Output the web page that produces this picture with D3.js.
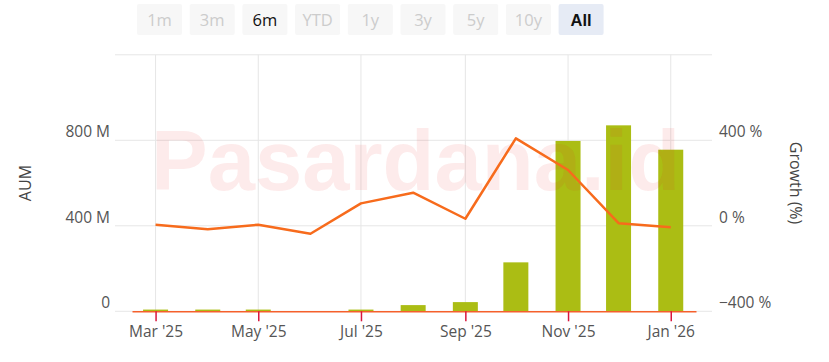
<!DOCTYPE html>
<html>
<head>
<meta charset="utf-8">
<script src="https://cdn.jsdelivr.net/npm/d3@7"></script>
<style>
  body { margin: 0; background: #fff; }
  svg { display: block; font-family: "Open Sans", "Noto Sans", sans-serif; }
</style>
</head>
<body>
<div id="container"></div>
<script>
const months = ["2025-03-01", "2025-04-01", "2025-05-01", "2025-06-01", "2025-07-01", "2025-08-01",
  "2025-09-01", "2025-10-01", "2025-11-01", "2025-12-01", "2026-01-01"];
const aum = [8, 8, 8, null, 8, 29, 43, 229, 797, 870, 756];   // millions
const growth = [5, -16, 5, -37, 105, 155, 33, 409, 261, 12, -7]; // percent
const aumTicks = [0, 400, 800, 1200];
const growthTicks = [-400, 0, 400, 800];
const xTicks = ["2025-03-01", "2025-05-01", "2025-07-01", "2025-09-01", "2025-11-01", "2026-01-01"];
const buttons = ["1m", "3m", "6m", "YTD", "1y", "3y", "5y", "10y", "All"];

const width = 829;
const height = 362;
const parse = d3.timeParse("%Y-%m-%d");
const data = months.map((m, i) => ({ date: parse(m), aum: aum[i], growth: growth[i] }));

const svg = d3.select("#container").append("svg")
  .attr("width", width)
  .attr("height", height);

const x = d3.scaleTime()
  .domain([parse("2025-02-15"), parse("2026-01-16")])
  .range([132, 696]);
const yL = d3.scaleLinear().domain([0, 1200]).range([311.3, 54.8]);
const yR = d3.scaleLinear().domain([-400, 800]).range([311.3, 54.8]);

// range selector buttons
const btn = svg.append("g");
buttons.forEach((b, i) => {
  const bx = 137 + i * 52.7;
  const active = b === "All";
  const g = btn.append("g").attr("transform", `translate(${bx},4)`);
  g.append("rect").attr("width", 45).attr("height", 31).attr("rx", 2)
    .attr("fill", active ? "#e6ebf5" : "#f7f7f7");
  g.append("text").attr("x", 22.5).attr("y", 21.5)
    .attr("text-anchor", "middle")
    .attr("font-size", 16.5)
    .attr("font-weight", active ? "bold" : "normal")
    .attr("font-family", active ? "Liberation Sans, Arial, sans-serif" : null)
    .attr("fill", active || b === "6m" ? "#111" : "#cccccc")
    .text(b);
});

// horizontal gridlines
svg.append("g")
  .selectAll("line")
  .data(aumTicks)
  .join("line")
  .attr("x1", 115).attr("x2", 712)
  .attr("y1", d => yL(d)).attr("y2", d => yL(d))
  .attr("stroke", "#e6e6e6");

// vertical gridlines
svg.append("g")
  .selectAll("line")
  .data(xTicks.map(parse))
  .join("line")
  .attr("x1", d => x(d)).attr("x2", d => x(d))
  .attr("y1", yL(1200)).attr("y2", yL(0))
  .attr("stroke", "#e6e6e6");

// bars
svg.append("g")
  .selectAll("rect")
  .data(data.filter(d => d.aum != null))
  .join("rect")
  .attr("x", d => x(d.date) - 12.5)
  .attr("width", 25)
  .attr("y", d => yL(d.aum))
  .attr("height", d => yL(0) - yL(d.aum))
  .attr("fill", "#abbd14");

// watermark
svg.append("text")
  .attr("x", 151).attr("y", 190)
  .attr("font-family", "Liberation Sans, Arial, sans-serif")
  .attr("font-weight", "bold")
  .attr("font-size", 85)
  .attr("fill", "rgba(235,30,30,0.09)")
  .text("Pasardana.id");

// growth line
const line = d3.line()
  .x(d => x(d.date))
  .y(d => yR(d.growth));
svg.append("path")
  .datum(data)
  .attr("fill", "none")
  .attr("stroke", "#f76b1c")
  .attr("stroke-width", 2.5)
  .attr("stroke-linejoin", "round")
  .attr("d", line);

// x axis
const xAxis = svg.append("g")
  .attr("transform", `translate(0,${yL(0)})`)
  .call(d3.axisBottom(x)
    .tickValues(xTicks.map(parse))
    .tickSize(10)
    .tickSizeOuter(0)
    .tickPadding(5)
    .tickFormat(d3.timeFormat("%b '%y")));
xAxis.select(".domain").attr("stroke", "#f5602c").attr("stroke-width", 1.5);
xAxis.selectAll(".tick line").attr("stroke", "#d8163c").attr("stroke-width", 1.5);
xAxis.selectAll(".tick text")
  .attr("font-size", 15.5)
  .attr("font-family", "Open Sans, sans-serif")
  .attr("fill", "#555");

// left axis labels
const leftAxis = svg.append("g")
  .attr("transform", "translate(110,0)")
  .call(d3.axisLeft(yL)
    .tickValues(aumTicks.slice(0, 3))
    .tickSize(0)
    .tickPadding(0)
    .tickFormat(d => d === 0 ? "0" : `${d} M`));
leftAxis.select(".domain").remove();
leftAxis.selectAll("text")
  .attr("dy", "-0.22em")
  .attr("font-size", 15.5)
  .attr("font-family", "Open Sans, sans-serif")
  .attr("fill", "#555");

// right axis labels
const rightAxis = svg.append("g")
  .attr("transform", "translate(719,0)")
  .call(d3.axisRight(yR)
    .tickValues(growthTicks.slice(0, 3))
    .tickSize(0)
    .tickPadding(0)
    .tickFormat(d => `${d < 0 ? "\u2212" : ""}${Math.abs(d)} %`));
rightAxis.select(".domain").remove();
rightAxis.selectAll("text")
  .attr("dy", "-0.22em")
  .attr("font-size", 15.5)
  .attr("font-family", "Open Sans, sans-serif")
  .attr("fill", "#555");

// axis titles
svg.append("text")
  .attr("transform", `translate(31,${yL(600)}) rotate(-90)`)
  .attr("text-anchor", "middle")
  .attr("font-size", 16)
  .attr("fill", "#444")
  .text("AUM");

svg.append("text")
  .attr("transform", `translate(790,${yL(600)}) rotate(90)`)
  .attr("text-anchor", "middle")
  .attr("font-size", 16)
  .attr("fill", "#444")
  .text("Growth (%)");
</script>
</body>
</html>
